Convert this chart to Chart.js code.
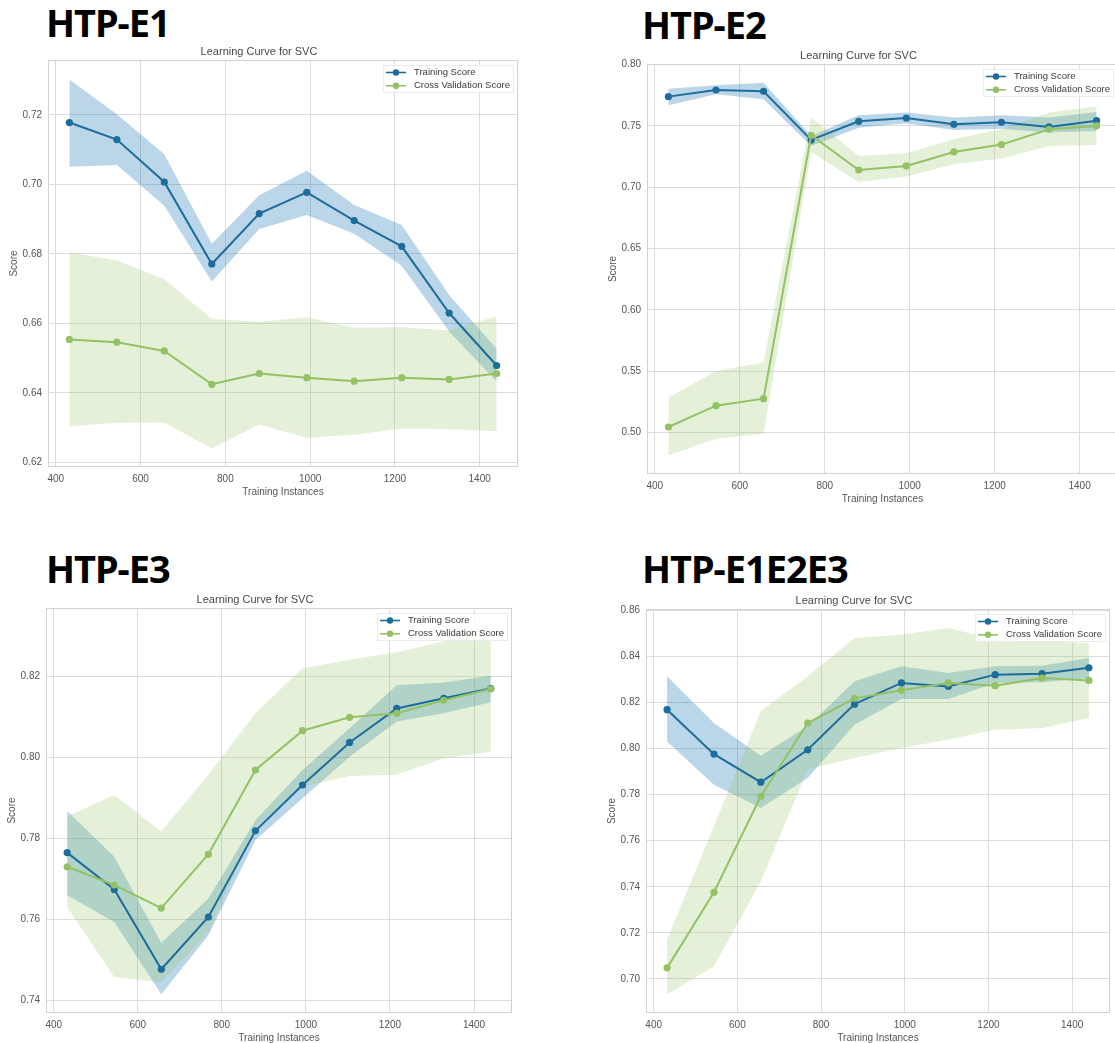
<!DOCTYPE html>
<html>
<head>
<meta charset="utf-8">
<script src="https://cdn.jsdelivr.net/npm/chart.js@4.4.1/dist/chart.umd.min.js"></script>
<style>
  html, body { margin: 0; padding: 0; background: #fff; width: 1115px; height: 1043px; overflow: hidden; position: relative; }
  .panel-head { position: absolute; font-family: 'Noto Sans', sans-serif; font-weight: 700; font-size: 38px; line-height: 38px; letter-spacing: -1px; color: #000; white-space: nowrap; }
  canvas { position: absolute; }
</style>
</head>
<body>
<div class="panel-head" style="left:46px; top:3px">HTP-E1</div>
<div class="panel-head" style="left:642px; top:5px">HTP-E2</div>
<div class="panel-head" style="left:46px; top:549px">HTP-E3</div>
<div class="panel-head" style="left:642px; top:549px">HTP-E1E2E3</div>
<canvas id="chart-e1"></canvas>
<canvas id="chart-e2"></canvas>
<canvas id="chart-e3"></canvas>
<canvas id="chart-e1e2e3"></canvas>
<script>
const trainSizes = [432, 544, 656, 768, 880, 992, 1104, 1216, 1328, 1440];
const xTicks = [400, 600, 800, 1000, 1200, 1400];

// HTP-E1
const e1TrainMean  = [0.7178, 0.7129, 0.7007, 0.6771, 0.6916, 0.6977, 0.6896, 0.6822, 0.6630, 0.6479];
const e1TrainUpper = [0.7302, 0.7202, 0.7087, 0.6829, 0.6969, 0.7039, 0.6941, 0.6883, 0.6682, 0.6527];
const e1TrainLower = [0.7051, 0.7056, 0.6939, 0.6721, 0.6872, 0.6912, 0.6858, 0.6766, 0.6577, 0.6433];
const e1CvMean     = [0.6554, 0.6546, 0.6521, 0.6425, 0.6456, 0.6444, 0.6434, 0.6444, 0.6439, 0.6456];
const e1CvUpper    = [0.6805, 0.6781, 0.6728, 0.6613, 0.6605, 0.6618, 0.6588, 0.6589, 0.6580, 0.6621];
const e1CvLower    = [0.6304, 0.6314, 0.6315, 0.6240, 0.6309, 0.6271, 0.6280, 0.6298, 0.6296, 0.6290];
const e1YTicks = [0.62, 0.64, 0.66, 0.68, 0.70, 0.72];

// HTP-E2
const e2TrainMean  = [0.7739, 0.7793, 0.7783, 0.7386, 0.7538, 0.7565, 0.7514, 0.7530, 0.7492, 0.7543];
const e2TrainUpper = [0.7804, 0.7832, 0.7853, 0.7418, 0.7587, 0.7609, 0.7568, 0.7587, 0.7568, 0.7614];
const e2TrainLower = [0.7668, 0.7758, 0.7717, 0.7337, 0.7486, 0.7522, 0.7467, 0.7478, 0.7446, 0.7459];
const e2CvMean     = [0.5046, 0.5220, 0.5277, 0.7424, 0.7141, 0.7174, 0.7288, 0.7348, 0.7473, 0.7500];
const e2CvUpper    = [0.5285, 0.5503, 0.5571, 0.7568, 0.7255, 0.7277, 0.7391, 0.7473, 0.7609, 0.7658];
const e2CvLower    = [0.4815, 0.4951, 0.4992, 0.7288, 0.7043, 0.7087, 0.7187, 0.7234, 0.7337, 0.7345];
const e2YTicks = [0.50, 0.55, 0.60, 0.65, 0.70, 0.75, 0.80];

// HTP-E3
const e3TrainMean  = [0.7765, 0.7674, 0.7477, 0.7606, 0.7819, 0.7932, 0.8037, 0.8121, 0.8146, 0.8170];
const e3TrainUpper = [0.7868, 0.7755, 0.7542, 0.7652, 0.7845, 0.7969, 0.8072, 0.8178, 0.8185, 0.8202];
const e3TrainLower = [0.7660, 0.7594, 0.7415, 0.7561, 0.7796, 0.7899, 0.8002, 0.8089, 0.8109, 0.8136];
const e3CvMean     = [0.7730, 0.7685, 0.7628, 0.7761, 0.7969, 0.8066, 0.8099, 0.8109, 0.8141, 0.8169];
const e3CvUpper    = [0.7854, 0.7907, 0.7817, 0.7957, 0.8109, 0.8220, 0.8241, 0.8260, 0.8286, 0.8322];
const e3CvLower    = [0.7631, 0.7458, 0.7445, 0.7569, 0.7829, 0.7928, 0.7954, 0.7957, 0.7998, 0.8014];
const e3YTicks = [0.74, 0.76, 0.78, 0.80, 0.82];

// HTP-E1E2E3
const e4TrainMean  = [0.8169, 0.7976, 0.7854, 0.7995, 0.8193, 0.8285, 0.8270, 0.8321, 0.8325, 0.8351];
const e4TrainUpper = [0.8314, 0.8111, 0.7969, 0.8097, 0.8292, 0.8357, 0.8328, 0.8357, 0.8360, 0.8393];
const e4TrainLower = [0.8031, 0.7843, 0.7742, 0.7872, 0.8104, 0.8215, 0.8215, 0.8285, 0.8288, 0.8306];
const e4CvMean     = [0.7048, 0.7376, 0.7793, 0.8111, 0.8218, 0.8253, 0.8285, 0.8273, 0.8306, 0.8296];
const e4CvUpper    = [0.7171, 0.7663, 0.8162, 0.8314, 0.8480, 0.8494, 0.8523, 0.8473, 0.8465, 0.8458];
const e4CvLower    = [0.6932, 0.7055, 0.7424, 0.7909, 0.7959, 0.8003, 0.8039, 0.8082, 0.8089, 0.8133];
const e4YTicks = [0.70, 0.72, 0.74, 0.76, 0.78, 0.80, 0.82, 0.84, 0.86];

const trainColor = '#1d6d9c';
const cvColor = '#93c264';
const trainBand = 'rgba(31, 120, 180, 0.30)';
const cvBand = 'rgba(147, 194, 100, 0.25)';
const gridColor = '#dcdcdc';
const labelColor = '#555555';
const fontFamily = "'Liberation Sans', Arial, sans-serif";

Chart.defaults.font.family = fontFamily;

const panels = [
    { id: 'chart-e1', frame: { left: 48, top: 60, right: 518, bottom: 467 }, yMin: 0.6187, yMax: 0.7358, yTicks: e1YTicks,
      train: [e1TrainMean, e1TrainUpper, e1TrainLower], cv: [e1CvMean, e1CvUpper, e1CvLower] },
    { id: 'chart-e2', frame: { left: 647, top: 64, right: 1118, bottom: 474 }, yMin: 0.4663, yMax: 0.8005, yTicks: e2YTicks,
      train: [e2TrainMean, e2TrainUpper, e2TrainLower], cv: [e2CvMean, e2CvUpper, e2CvLower] },
    { id: 'chart-e3', frame: { left: 46, top: 608, right: 512, bottom: 1013 }, yMin: 0.7369, yMax: 0.8369, yTicks: e3YTicks,
      train: [e3TrainMean, e3TrainUpper, e3TrainLower], cv: [e3CvMean, e3CvUpper, e3CvLower] },
    { id: 'chart-e1e2e3', frame: { left: 646, top: 609, right: 1110, bottom: 1013 }, yMin: 0.6852, yMax: 0.8606, yTicks: e4YTicks,
      train: [e4TrainMean, e4TrainUpper, e4TrainLower], cv: [e4CvMean, e4CvUpper, e4CvLower] }
];

function toPoints(values) {
    return trainSizes.map((x, i) => ({ x: x, y: values[i] }));
}

function scoreLine(label, color, values, rank) {
    return {
        label: label,
        data: toPoints(values),
        borderColor: color,
        backgroundColor: color,
        borderWidth: 2,
        pointRadius: 3.6,
        pointBorderWidth: 0,
        fill: false,
        legendRank: rank
    };
}

function bandEdge(values, fillColor, fillToNext) {
    return {
        data: toPoints(values),
        borderColor: 'rgba(0,0,0,0)',
        backgroundColor: fillColor,
        borderWidth: 0,
        pointRadius: 0,
        fill: fillToNext ? '+1' : false
    };
}

// light grey box round the plot area
const plotFrame = {
    id: 'plotFrame',
    beforeDatasetsDraw(chart) {
        const ctx = chart.ctx;
        const a = chart.chartArea;
        ctx.save();
        ctx.strokeStyle = '#d2d2d2';
        ctx.lineWidth = 1;
        ctx.strokeRect(Math.round(a.left) + 0.5, Math.round(a.top) + 0.5, Math.round(a.right - a.left) - 1, Math.round(a.bottom - a.top) - 1);
        ctx.restore();
    }
};

// matplotlib style legend in the upper right corner of the axes
const insideLegend = {
    id: 'insideLegend',
    afterDraw(chart) {
        const items = chart.data.datasets
            .filter(d => d.legendRank !== undefined)
            .sort((a, b) => a.legendRank - b.legendRank);
        const ctx = chart.ctx;
        const area = chart.chartArea;
        ctx.save();
        ctx.font = "9.5px " + fontFamily;
        const textW = Math.max(...items.map(d => ctx.measureText(d.label).width));
        const boxW = 31 + textW + 4;
        const boxH = 28;
        const x0 = Math.round(area.right - 4 - boxW);
        const y0 = Math.round(area.top + 5);
        ctx.fillStyle = 'rgba(255,255,255,0.8)';
        ctx.fillRect(x0, y0, boxW, boxH);
        ctx.strokeStyle = '#ebebeb';
        ctx.lineWidth = 1;
        ctx.strokeRect(x0 + 0.5, y0 + 0.5, boxW - 1, boxH - 1);
        items.forEach((d, i) => {
            const cy = y0 + 7.5 + i * 13.3;
            ctx.strokeStyle = d.borderColor;
            ctx.lineWidth = 1.6;
            ctx.beginPath();
            ctx.moveTo(x0 + 3, cy);
            ctx.lineTo(x0 + 23, cy);
            ctx.stroke();
            ctx.fillStyle = d.borderColor;
            ctx.beginPath();
            ctx.arc(x0 + 13, cy, 3.2, 0, Math.PI * 2);
            ctx.fill();
            ctx.fillStyle = '#3a3a3a';
            ctx.textAlign = 'left';
            ctx.textBaseline = 'middle';
            ctx.fillText(d.label, x0 + 31, cy);
        });
        ctx.restore();
    }
};

function buildChart(panel) {
    const f = panel.frame;
    const canvas = document.getElementById(panel.id);
    // room for y axis on the left, mirrored on the right so the title centres on the axes
    canvas.width = (f.right - f.left) + 96;
    canvas.height = (f.bottom - f.top) + 22 + 36;
    canvas.style.left = (f.left - 48) + 'px';
    canvas.style.top = (f.top - 22) + 'px';

    return new Chart(canvas, {
        type: 'line',
        data: {
            datasets: [
                scoreLine('Cross Validation Score', cvColor, panel.cv[0], 2),
                scoreLine('Training Score', trainColor, panel.train[0], 1),
                bandEdge(panel.cv[1], cvBand, true),
                bandEdge(panel.cv[2], cvBand, false),
                bandEdge(panel.train[1], trainBand, true),
                bandEdge(panel.train[2], trainBand, false)
            ]
        },
        options: {
            responsive: false,
            animation: false,
            events: [],
            layout: { padding: { left: 0, right: 48, top: 0, bottom: 0 } },
            plugins: {
                legend: { display: false },
                tooltip: { enabled: false },
                title: {
                    display: true,
                    text: 'Learning Curve for SVC',
                    color: '#484848',
                    font: { size: 11, weight: 'normal' },
                    padding: { top: 7, bottom: 1.8 }
                }
            },
            scales: {
                x: {
                    type: 'linear',
                    min: 381.6,
                    max: 1490.4,
                    afterBuildTicks: s => { s.ticks = xTicks.map(v => ({ value: v })); },
                    afterFit: s => { s.height = 36; },
                    grid: { color: gridColor, drawTicks: false },
                    border: { display: false },
                    ticks: { padding: 6, color: labelColor, font: { size: 10 }, callback: v => String(v) },
                    title: { display: true, text: 'Training Instances', color: labelColor, font: { size: 10 }, padding: { top: 2, bottom: 5 } }
                },
                y: {
                    type: 'linear',
                    min: panel.yMin,
                    max: panel.yMax,
                    afterBuildTicks: s => { s.ticks = panel.yTicks.map(v => ({ value: v })); },
                    afterFit: s => { s.width = 48; },
                    grid: { color: gridColor, drawTicks: false },
                    border: { display: false },
                    ticks: { padding: 6, color: labelColor, font: { size: 10 }, callback: v => v.toFixed(2) },
                    title: { display: true, text: 'Score', color: labelColor, font: { size: 10 }, padding: { top: 8, bottom: 0 } }
                }
            }
        },
        plugins: [plotFrame, insideLegend]
    });
}

panels.forEach(buildChart);
</script>
</body>
</html>
